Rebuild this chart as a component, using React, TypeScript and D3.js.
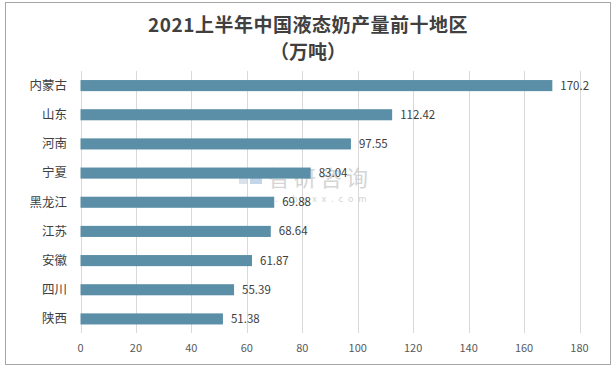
import React, { useEffect, useRef } from 'react';
import * as d3 from 'd3';

const regions = ['内蒙古', '山东', '河南', '宁夏', '黑龙江', '江苏', '安徽', '四川', '陕西'];
const output = [170.2, 112.42, 97.55, 83.04, 69.88, 68.64, 61.87, 55.39, 51.38];
const valueLabels = ['170.2', '112.42', '97.55', '83.04', '69.88', '68.64', '61.87', '55.39', '51.38'];
const xTicks = [0, 20, 40, 60, 80, 100, 120, 140, 160, 180];

const WIDTH = 616;
const HEIGHT = 374;
const FONT = "'Noto Sans CJK SC', 'Noto Sans', sans-serif";

const App: React.FC = () => {
  const svgRef = useRef<SVGSVGElement | null>(null);

  useEffect(() => {
    if (!svgRef.current) return;
    const svg = d3.select(svgRef.current);
    svg.selectAll('*').remove();

    svg.append('rect')
      .attr('x', 5.5).attr('y', 2.5)
      .attr('width', 605).attr('height', 362)
      .attr('fill', '#ffffff')
      .attr('stroke', '#a6a6a6')
      .attr('stroke-width', 1);

    const x = d3.scaleLinear().domain([0, 180]).range([80.5, 579.5]);
    const y = d3.scaleBand<string>().domain(regions).range([71, 333.5]).paddingInner(0.62).paddingOuter(0.31);

    // grid
    svg.append('g')
      .selectAll('line')
      .data(xTicks)
      .join('line')
      .attr('x1', d => Math.round(x(d)) + 0.5)
      .attr('x2', d => Math.round(x(d)) + 0.5)
      .attr('y1', 71)
      .attr('y2', 333)
      .attr('stroke', '#d9d9d9')
      .attr('stroke-width', 1);

    // watermark (faint, behind the bars)
    const wm = svg.append('g').attr('opacity', 0.7);
    wm.append('rect').attr('x', 239).attr('y', 169).attr('width', 9).attr('height', 6).attr('fill', '#c9d6e3');
    wm.append('rect').attr('x', 239).attr('y', 178).attr('width', 9).attr('height', 6).attr('fill', '#c9d6e3');
    wm.append('rect').attr('x', 250).attr('y', 169).attr('width', 12).attr('height', 15).attr('fill', '#a9c4e0');
    wm.append('text')
      .attr('x', 268).attr('y', 186)
      .attr('font-family', FONT).attr('font-size', 22)
      .attr('letter-spacing', 4)
      .attr('fill', '#c4c4c4')
      .text('智研咨询');
    wm.append('text')
      .attr('x', 239).attr('y', 202)
      .attr('font-family', FONT).attr('font-size', 9)
      .attr('letter-spacing', 5)
      .attr('fill', '#c4c4c4')
      .text('www.chyxx.com');

    // bars
    svg.append('g')
      .selectAll('rect')
      .data(output)
      .join('rect')
      .attr('x', x(0))
      .attr('y', (_, i) => y(regions[i])!)
      .attr('width', d => x(d) - x(0))
      .attr('height', y.bandwidth())
      .attr('fill', '#5b8fa7');

    // value labels
    svg.append('g')
      .selectAll('text')
      .data(output)
      .join('text')
      .attr('x', d => x(d) + 8)
      .attr('y', (_, i) => y(regions[i])! + y.bandwidth() / 2)
      .attr('dy', '0.35em')
      .attr('font-family', FONT)
      .attr('font-size', 11.5)
      .attr('fill', '#404040')
      .text((_, i) => valueLabels[i]);

    // category labels
    svg.append('g')
      .selectAll('text')
      .data(regions)
      .join('text')
      .attr('x', 67)
      .attr('y', d => y(d)! + y.bandwidth() / 2)
      .attr('dy', '0.35em')
      .attr('text-anchor', 'end')
      .attr('font-family', FONT)
      .attr('font-size', 12.5)
      .attr('fill', '#404040')
      .text(d => d);

    // x tick labels
    svg.append('g')
      .selectAll('text')
      .data(xTicks)
      .join('text')
      .attr('x', d => x(d))
      .attr('y', 348)
      .attr('dy', '0.35em')
      .attr('text-anchor', 'middle')
      .attr('font-family', FONT)
      .attr('font-size', 11)
      .attr('fill', '#595959')
      .text(d => String(d));

    // title
    svg.append('text')
      .attr('x', 308).attr('y', 25)
      .attr('dy', '0.35em')
      .attr('text-anchor', 'middle')
      .attr('font-family', FONT)
      .attr('font-size', 19)
      .attr('font-weight', 700)
      .attr('letter-spacing', 0.5)
      .attr('fill', '#404040')
      .text('2021上半年中国液态奶产量前十地区');
    svg.append('text')
      .attr('x', 308).attr('y', 52)
      .attr('dy', '0.35em')
      .attr('text-anchor', 'middle')
      .attr('font-family', FONT)
      .attr('font-size', 19)
      .attr('font-weight', 700)
      .attr('fill', '#404040')
      .text('（万吨）');
  }, []);

  return (
    <svg
      ref={svgRef}
      width={WIDTH}
      height={HEIGHT}
      style={{ position: 'absolute', left: 0, top: 0 }}
      role="img"
      aria-label="2021上半年中国液态奶产量前十地区"
    />
  );
};

export default App;
